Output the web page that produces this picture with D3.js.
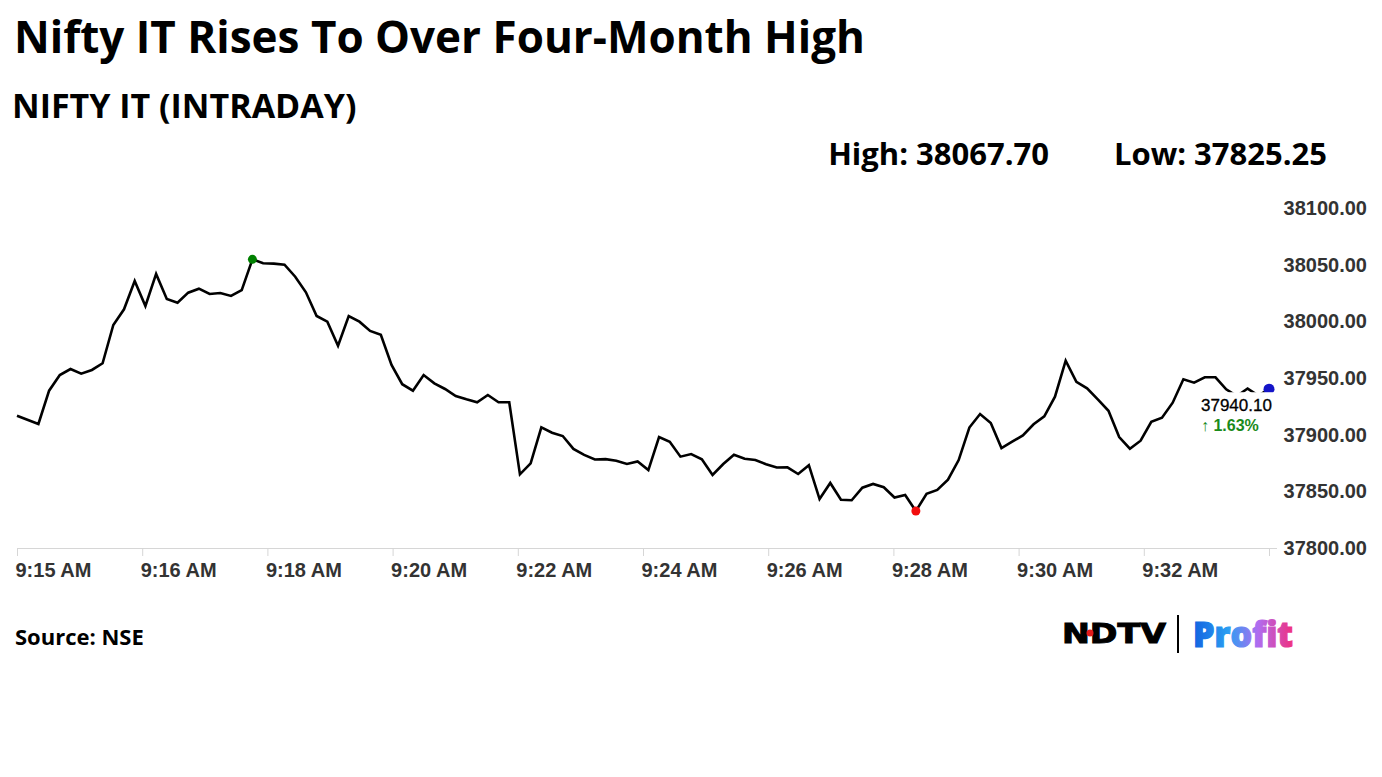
<!DOCTYPE html>
<html>
<head>
<meta charset="utf-8">
<script src="https://cdn.jsdelivr.net/npm/d3@7"></script>
<style>
  html, body { margin: 0; padding: 0; background: #fff; }
  svg { display: block; }
  text { font-family: "Open Sans", Lato, sans-serif; }
</style>
</head>
<body>
<svg id="chart" width="1382" height="777"></svg>
<script>
// chart values (slot 1 has no tick)
const seriesValues = [
  37916.7, null, 37909.4, 37938.8, 37952.6, 37957.9, 37953.8, 37957.1, 37963.0, 37996.8,
  38010.6, 38035.6, 38013.5, 38041.8, 38019.7, 38016.4, 38025.3, 38028.8, 38024.1, 38025.0,
  38022.4, 38027.6, 38054.7, 38051.2, 38050.9, 38050.0, 38039.4, 38025.6, 38004.7, 37999.7,
  37978.5, 38004.7, 37999.7, 37991.5, 37988.2, 37961.5, 37944.5, 37938.8, 37952.6, 37945.3,
  37940.3, 37934.1, 37931.2, 37928.6, 37935.0, 37928.6, 37928.6, 37865.0, 37874.7, 37906.5,
  37901.7, 37898.8, 37887.4, 37882.1, 37878.1, 37878.4, 37877.0, 37874.1, 37876.3, 37868.8,
  37897.9, 37893.8, 37880.6, 37882.9, 37878.3, 37864.4, 37874.1, 37882.3, 37878.8, 37877.6,
  37873.9, 37871.0, 37871.2, 37865.3, 37873.1, 37843.2, 37857.4, 37842.6, 37842.1, 37853.2,
  37856.5, 37853.6, 37844.6, 37846.8, 37832.6, 37847.9, 37851.2, 37860.3, 37877.6, 37906.3,
  37918.2, 37910.3, 37888.2, 37893.8, 37899.3, 37909.2, 37916.2, 37933.5, 37965.3, 37946.7,
  37940.9, 37931.2, 37921.1, 37897.9, 37887.6, 37894.7, 37911.4, 37914.9, 37928.2, 37948.9,
  37945.9, 37950.6, 37950.6, 37940.0, 37934.0, 37940.7, 37934.5, 37940.1
]

const timeLabels = ["9:15 AM", "9:16 AM", "9:18 AM", "9:20 AM", "9:22 AM", "9:24 AM",
  "9:26 AM", "9:28 AM", "9:30 AM", "9:32 AM", ""]

const yTicks = [37800, 37850, 37900, 37950, 38000, 38050, 38100]

const title = "Nifty IT Rises To Over Four-Month High"
const subtitle = "NIFTY IT (INTRADAY)"
const dayHigh = "38067.70"
const dayLow = "37825.25"
const lastValue = "37940.10"
const changePct = "1.63%"
const source = "Source: NSE"

const svg = d3.select("#chart")

const margin = { left: 17, right: 113, top: 208, bottom: 229 }
const width = 1382, height = 777

const points = seriesValues
  .map((v, i) => ({ slot: i, value: v }))
  .filter(d => d.value != null)

const x = d3.scaleLinear()
  .domain([0, seriesValues.length - 1])
  .range([margin.left, width - margin.right])

const y = d3.scaleLinear()
  .domain([37800, 38100])
  .range([height - margin.bottom, margin.top])

// headings
svg.append("text")
  .attr("x", 14).attr("y", 53)
  .attr("font-size", 44).attr("font-weight", 700)
  .attr("fill", "#000")
  .text(title)

svg.append("text")
  .attr("x", 12).attr("y", 118)
  .attr("font-size", 34).attr("font-weight", 700)
  .attr("fill", "#000")
  .text(subtitle)

svg.append("text")
  .attr("x", 1049).attr("y", 165)
  .attr("text-anchor", "end")
  .attr("font-size", 31).attr("font-weight", 700)
  .text(`High: ${dayHigh}`)

svg.append("text")
  .attr("x", 1327).attr("y", 165)
  .attr("text-anchor", "end")
  .attr("font-size", 31).attr("font-weight", 700)
  .text(`Low: ${dayLow}`)

// x axis
const tickStep = (seriesValues.length - 1) / (timeLabels.length - 1)
const xAxis = d3.axisBottom(x)
  .tickValues(timeLabels.map((_, i) => i * tickStep))
  .tickFormat((_, i) => timeLabels[i])
  .tickSize(8)
  .tickPadding(7)

const gx = svg.append("g")
  .attr("transform", `translate(0, ${y(37800)})`)
  .call(xAxis)

gx.select(".domain")
  .attr("d", `M${margin.left},0.5H${width - margin.right + 8}`)
  .attr("stroke", "#d6d6d6")
gx.selectAll(".tick line").attr("stroke", "#d6d6d6")
gx.selectAll(".tick text")
  .attr("text-anchor", "start")
  .attr("x", -2)
  .attr("fill", "#333")
  .style("font-family", "'Liberation Sans', Arial, sans-serif")
  .style("font-size", "20px")
  .style("font-weight", 700)

// y axis labels on the right
const yAxis = d3.axisRight(y)
  .tickValues(yTicks)
  .tickFormat(d3.format(".2f"))
  .tickSize(0)

const gy = svg.append("g")
  .attr("transform", `translate(1282, 0)`)
  .call(yAxis)
gy.select(".domain").remove()
gy.selectAll(".tick text")
  .attr("text-anchor", "end")
  .attr("x", 85)
  .attr("fill", "#333")
  .style("font-family", "'Liberation Sans', Arial, sans-serif")
  .style("font-size", "20px")
  .style("font-weight", 700)

// price line
const line = d3.line()
  .x(d => x(d.slot))
  .y(d => y(d.value))

svg.append("path")
  .datum(points)
  .attr("d", line)
  .attr("fill", "none")
  .attr("stroke", "#000")
  .attr("stroke-width", 2.6)
  .attr("stroke-linejoin", "miter")

const hi = points[d3.maxIndex(points, d => d.value)]
const lo = points[d3.minIndex(points, d => d.value)]
const last = points[points.length - 1]

svg.append("circle")
  .attr("cx", x(hi.slot)).attr("cy", y(hi.value)).attr("r", 4.5)
  .attr("fill", "#008000")
svg.append("circle")
  .attr("cx", x(lo.slot)).attr("cy", y(lo.value)).attr("r", 4.5)
  .attr("fill", "#f20d0d")
svg.append("circle")
  .attr("cx", x(last.slot)).attr("cy", y(last.value)).attr("r", 5.5)
  .attr("fill", "#1414c8")

// last value label
const lx = x(last.slot), ly = y(last.value)
const lbl = svg.append("g").attr("transform", `translate(${lx - 68}, ${ly + 3})`)
lbl.append("rect")
  .attr("x", -2).attr("y", 0)
  .attr("width", 84).attr("height", 44)
  .attr("fill", "#fff")
lbl.append("text")
  .attr("x", 0).attr("y", 19)
  .attr("font-size", 17)
  .style("font-family", "'Liberation Sans', Arial, sans-serif")
  .attr("fill", "#000")
  .attr("stroke", "#000").attr("stroke-width", 0.3)
  .text(lastValue)
lbl.append("text")
  .attr("x", 0).attr("y", 39)
  .attr("font-size", 16).attr("font-weight", 700)
  .style("font-family", "'Liberation Sans', Arial, sans-serif")
  .attr("fill", "#1a8a1a")
  .text(`\u2191 ${changePct}`)

// footer
svg.append("text")
  .attr("x", 15).attr("y", 645)
  .attr("font-size", 22).attr("font-weight", 700)
  .text(source)

const grad = svg.append("defs").append("linearGradient")
  .attr("id", "profitGrad")
  .attr("x1", "0%").attr("x2", "100%")
grad.selectAll("stop")
  .data([["0%", "#1262e0"], ["35%", "#2a9ff2"], ["65%", "#b06cf0"], ["100%", "#f0307f"]])
  .join("stop")
  .attr("offset", d => d[0])
  .attr("stop-color", d => d[1])

const logo = svg.append("g")
logo.append("text")
  .attr("x", 1062).attr("y", 643)
  .attr("font-size", 27)
  .attr("font-weight", 900)
  .attr("textLength", 104)
  .attr("lengthAdjust", "spacingAndGlyphs")
  .attr("stroke", "#000").attr("stroke-width", 1)
  .style("font-family", "'DejaVu Sans', sans-serif")
  .text("NDTV")
logo.append("circle")
  .attr("cx", 1090).attr("cy", 633).attr("r", 3.5)
  .attr("fill", "#e21b1b")
logo.append("line")
  .attr("x1", 1178).attr("x2", 1178)
  .attr("y1", 615).attr("y2", 653)
  .attr("stroke", "#000").attr("stroke-width", 2)
logo.append("text")
  .attr("x", 1193).attr("y", 647)
  .attr("font-size", 36).attr("font-weight", 800)
  .attr("textLength", 100)
  .attr("lengthAdjust", "spacingAndGlyphs")
  .attr("stroke", "url(#profitGrad)").attr("stroke-width", 1.2)
  .style("font-family", "'Open Sans', sans-serif")
  .attr("fill", "url(#profitGrad)")
  .text("Profit")
</script>
</body>
</html>
